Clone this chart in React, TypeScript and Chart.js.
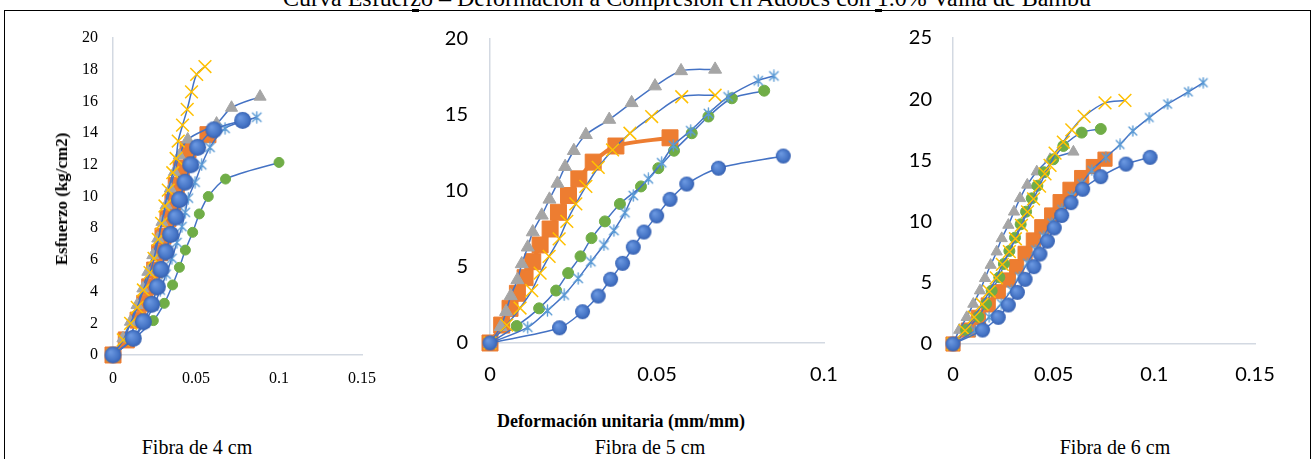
import React, { useEffect, useRef } from "react";
import { Chart, registerables } from "chart.js";

Chart.register(...registerables);

type Pt = [number, number];

// ---- Fibra de 4 cm: [deformación unitaria (mm/mm), esfuerzo (kg/cm2)] ----
const f4Probeta1: Pt[] = [[0, 0], [0.0122, 1.05], [0.0183, 2.1], [0.0233, 3.2], [0.0267, 4.3], [0.0289, 5.4], [0.0319, 6.5], [0.0347, 7.6], [0.0379, 8.7], [0.04, 9.8], [0.0434, 10.9], [0.0468, 12.0], [0.051, 13.1], [0.0608, 14.2], [0.0781, 14.8]];
const f4Probeta2: Pt[] = [[0, 0], [0.008, 0.95], [0.0151, 2.2], [0.0191, 3.26], [0.0221, 4.3], [0.0251, 5.36], [0.0281, 6.45], [0.0301, 7.5], [0.0331, 8.6], [0.0361, 9.65], [0.0381, 10.7], [0.0411, 11.8], [0.0452, 12.95], [0.0572, 13.9]];
const f4Probeta3: Pt[] = [[0, 0], [0.006, 1.05], [0.0105, 2.1], [0.0145, 3.15], [0.018, 4.2], [0.021, 5.25], [0.024, 6.3], [0.027, 7.35], [0.0295, 8.4], [0.032, 9.45], [0.0345, 10.5], [0.037, 11.55], [0.04, 12.6], [0.045, 13.6], [0.0624, 14.6], [0.0714, 15.6], [0.0886, 16.3]];
const f4Probeta4: Pt[] = [[0, 0], [0.0062, 0.95], [0.0106, 2.0], [0.0146, 3.0], [0.0183, 4.1], [0.0223, 5.2], [0.0247, 6.1], [0.0273, 7.3], [0.0293, 8.3], [0.0313, 9.4], [0.0333, 10.4], [0.036, 11.5], [0.038, 12.4], [0.0393, 13.5], [0.0419, 14.5], [0.0447, 15.5], [0.0473, 16.6], [0.0504, 17.7], [0.0554, 18.2]];
const f4Probeta5: Pt[] = [[0, 0], [0.012, 1.0], [0.019, 2.05], [0.0245, 3.1], [0.0285, 4.1], [0.032, 5.1], [0.0355, 6.1], [0.0385, 7.1], [0.0415, 8.1], [0.0435, 9.0], [0.0454, 9.9], [0.0494, 10.9], [0.0534, 12.0], [0.0584, 13.1], [0.0675, 14.3], [0.0866, 15.0]];
const f4Probeta6: Pt[] = [[0, 0], [0.0135, 1.1], [0.0243, 2.17], [0.0309, 3.26], [0.0359, 4.42], [0.04, 5.53], [0.0436, 6.62], [0.048, 7.74], [0.052, 8.9], [0.0574, 10.0], [0.0678, 11.1], [0.1, 12.15]];

// ---- Fibra de 5 cm ----
const f5Probeta1: Pt[] = [[0, 0], [0.0208, 1.0], [0.0277, 2.06], [0.0324, 3.09], [0.0361, 4.19], [0.0397, 5.24], [0.0429, 6.3], [0.0461, 7.3], [0.0499, 8.36], [0.0539, 9.45], [0.0589, 10.46], [0.0684, 11.5], [0.0878, 12.3]];
const f5Probeta2: Pt[] = [[0, 0], [0.0035, 1.18], [0.006, 2.28], [0.0082, 3.27], [0.0105, 4.3], [0.0128, 5.35], [0.015, 6.45], [0.018, 7.5], [0.0205, 8.6], [0.0235, 9.7], [0.0266, 10.8], [0.0309, 11.9], [0.0377, 12.96], [0.0539, 13.5]];
const f5Probeta3: Pt[] = [[0, 0], [0.0032, 1.07], [0.0048, 2.06], [0.0062, 3.1], [0.0082, 4.15], [0.0095, 5.2], [0.0113, 6.3], [0.0128, 7.3], [0.0155, 8.4], [0.0178, 9.45], [0.0202, 10.5], [0.0225, 11.6], [0.0251, 12.65], [0.0287, 13.7], [0.0357, 14.7], [0.0424, 15.8], [0.0494, 16.9], [0.0572, 17.9], [0.0674, 18.0]];
const f5Probeta4: Pt[] = [[0, 0], [0.005, 1.18], [0.009, 2.3], [0.0125, 3.45], [0.015, 4.6], [0.0177, 5.7], [0.0207, 6.85], [0.023, 8.0], [0.0257, 9.15], [0.0287, 10.3], [0.0324, 11.55], [0.0367, 12.7], [0.0419, 13.8], [0.0484, 14.9], [0.0574, 16.2], [0.0674, 16.3]];
const f5Probeta5: Pt[] = [[0, 0], [0.0113, 1.03], [0.0172, 2.13], [0.0222, 3.16], [0.0264, 4.25], [0.0302, 5.35], [0.0341, 6.45], [0.0371, 7.4], [0.0404, 8.57], [0.0429, 9.7], [0.0474, 10.8], [0.0514, 11.86], [0.0549, 13.0], [0.0601, 13.97], [0.0654, 15.1], [0.0713, 16.2], [0.0803, 17.26], [0.085, 17.57]];
const f5Probeta6: Pt[] = [[0, 0], [0.008, 1.12], [0.0147, 2.28], [0.0198, 3.45], [0.0234, 4.6], [0.0271, 5.7], [0.0304, 6.9], [0.0344, 8.0], [0.0389, 9.15], [0.0452, 10.3], [0.0504, 11.5], [0.0551, 12.65], [0.0604, 13.8], [0.0654, 14.9], [0.0724, 16.1], [0.0821, 16.6]];

// ---- Fibra de 6 cm ----
const f6Probeta1: Pt[] = [[0, 0], [0.0147, 1.14], [0.0225, 2.18], [0.0275, 3.19], [0.032, 4.22], [0.0358, 5.28], [0.0402, 6.32], [0.0432, 7.35], [0.0469, 8.4], [0.0503, 9.48], [0.054, 10.5], [0.0586, 11.55], [0.0644, 12.64], [0.0734, 13.67], [0.0859, 14.7], [0.0979, 15.25]];
const f6Probeta2: Pt[] = [[0, 0], [0.0076, 1.14], [0.0126, 2.18], [0.0175, 3.19], [0.0225, 4.27], [0.0275, 5.23], [0.0316, 6.32], [0.0358, 7.41], [0.0399, 8.5], [0.0441, 9.58], [0.049, 10.54], [0.0532, 11.63], [0.0581, 12.64], [0.0639, 13.6], [0.0697, 14.5], [0.0755, 15.1]];
const f6Probeta3: Pt[] = [[0, 0], [0.0031, 1.14], [0.0068, 2.18], [0.0101, 3.27], [0.0134, 4.36], [0.0159, 5.37], [0.0187, 6.45], [0.0217, 7.54], [0.0242, 8.63], [0.0275, 9.72], [0.0303, 10.8], [0.0333, 11.9], [0.0369, 13.0], [0.0416, 14.08], [0.0482, 15.09], [0.0598, 15.7]];
const f6Probeta4: Pt[] = [[0, 0], [0.006, 1.1], [0.0105, 2.2], [0.0145, 3.25], [0.018, 4.3], [0.0215, 5.4], [0.0245, 6.5], [0.028, 7.55], [0.031, 8.6], [0.034, 9.7], [0.037, 10.8], [0.04, 11.85], [0.043, 12.9], [0.0457, 13.9], [0.0482, 14.6], [0.0507, 15.6], [0.0548, 16.5], [0.059, 17.5], [0.0651, 18.6], [0.0755, 19.7], [0.0854, 19.9]];
const f6Probeta5: Pt[] = [[0, 0], [0.011, 1.1], [0.018, 2.2], [0.024, 3.3], [0.029, 4.4], [0.033, 5.5], [0.037, 6.6], [0.041, 7.7], [0.045, 8.8], [0.049, 9.9], [0.054, 11.0], [0.059, 12.1], [0.0639, 13.1], [0.0689, 14.2], [0.0759, 15.25], [0.083, 16.3], [0.0893, 17.4], [0.0975, 18.5], [0.1066, 19.6], [0.1169, 20.6], [0.1243, 21.35]];
const f6Probeta6: Pt[] = [[0, 0], [0.0065, 1.14], [0.0126, 2.23], [0.0164, 3.27], [0.0192, 4.36], [0.023, 5.45], [0.0253, 6.54], [0.028, 7.6], [0.0308, 8.69], [0.0336, 9.78], [0.0363, 10.81], [0.0391, 11.9], [0.0419, 12.93], [0.0452, 14.03], [0.0498, 15.09], [0.0548, 16.18], [0.0639, 17.27], [0.0734, 17.57]];

// Axis ranges and tick labels
const xTicks4 = [0, 0.05, 0.1, 0.15];
const xTicks5 = [0, 0.05, 0.1];
const xTicks6 = [0, 0.05, 0.1, 0.15];
const yTicks4 = [0, 2, 4, 6, 8, 10, 12, 14, 16, 18, 20];
const yTicks5 = [0, 5, 10, 15, 20];
const yTicks6 = [0, 5, 10, 15, 20, 25];

const TITLE = "Curva Esfuerzo – Deformación a Compresión en Adobes con 1.0% Vaina de Bambú";
const Y_TITLE = "Esfuerzo (kg/cm2)";
const X_TITLE = "Deformación unitaria (mm/mm)";
const CAPTIONS = ["Fibra de 4 cm", "Fibra de 5 cm", "Fibra de 6 cm"];

const BLUE = "#4472C4";
const ORANGE = "#ED7D31";
const GRAY = "#A5A5A5";
const GOLD = "#FFC000";
const SKY = "#5B9BD5";
const GREEN = "#70AD47";
const AXIS = "#D3D9E2";

interface Marks { circle: number; square: number; tri: number; cross: number; star: number; dot: number; }
interface Panel {
  series: Pt[][];
  xTicks: number[];
  yTicks: number[];
  font: { family: string; size: number };
  box: { left: number; top: number; width: number; height: number };
  padTop: number; padRight: number;
  yAxisW: number; xAxisH: number; yTickPad: number; xTickPad: number;
  marks: Marks;
  orangeLine: boolean;
}

const SERIF = "'Liberation Serif', 'Times New Roman', serif";
const SANS = "Lato, 'Open Sans', sans-serif";

const panels: Panel[] = [
  {
    series: [f4Probeta1, f4Probeta2, f4Probeta3, f4Probeta4, f4Probeta5, f4Probeta6],
    xTicks: xTicks4, yTicks: yTicks4,
    font: { family: SERIF, size: 16 },
    box: { left: 60, top: 20, width: 320, height: 380 },
    padTop: 18, padRight: 18, yAxisW: 53, xAxisH: 45, yTickPad: 15, xTickPad: 14,
    marks: { circle: 8.5, square: 11.3, tri: 7, cross: 9, star: 13, dot: 5 },
    orangeLine: false,
  },
  {
    series: [f5Probeta1, f5Probeta2, f5Probeta3, f5Probeta4, f5Probeta5, f5Probeta6],
    xTicks: xTicks5, yTicks: yTicks5,
    font: { family: SANS, size: 20 },
    box: { left: 420, top: 20, width: 430, height: 380 },
    padTop: 19, padRight: 26, yAxisW: 70, xAxisH: 57, yTickPad: 22, xTickPad: 20,
    marks: { circle: 7.5, square: 11.3, tri: 7.5, cross: 9, star: 13, dot: 5.5 },
    orangeLine: true,
  },
  {
    series: [f6Probeta1, f6Probeta2, f6Probeta3, f6Probeta4, f6Probeta5, f6Probeta6],
    xTicks: xTicks6, yTicks: yTicks6,
    font: { family: SANS, size: 20 },
    box: { left: 880, top: 20, width: 420, height: 380 },
    padTop: 18, padRight: 45, yAxisW: 73, xAxisH: 56, yTickPad: 21, xTickPad: 19,
    marks: { circle: 7.5, square: 10, tri: 6.5, cross: 9, star: 12, dot: 5.5 },
    orangeLine: false,
  },
];

// Shaded round marker, drawn once into a small canvas
function shadedCircle(r: number): HTMLCanvasElement {
  const c = document.createElement("canvas");
  const s = Math.ceil(2 * r + 2);
  c.width = s; c.height = s;
  const g = c.getContext("2d")!;
  const m = s / 2;
  const grad = g.createRadialGradient(m - r * 0.3, m - r * 0.35, r * 0.1, m, m, r);
  grad.addColorStop(0, "#6A97E0");
  grad.addColorStop(0.7, "#4675C6");
  grad.addColorStop(1, "#3660B0");
  g.beginPath();
  g.arc(m, m, r, 0, Math.PI * 2);
  g.fillStyle = grad;
  g.fill();
  return c;
}

// Asterisk marker: a diagonal cross plus a vertical stroke
function asterisk(size: number): HTMLCanvasElement {
  const c = document.createElement("canvas");
  c.width = size; c.height = size;
  const g = c.getContext("2d")!;
  const m = size / 2;
  const h = m - 1;
  const d = h * 0.78;
  g.strokeStyle = SKY;
  g.lineWidth = 1.4;
  g.lineCap = "round";
  g.beginPath();
  g.moveTo(m, m - h); g.lineTo(m, m + h);
  g.moveTo(m - d, m - d); g.lineTo(m + d, m + d);
  g.moveTo(m + d, m - d); g.lineTo(m - d, m + d);
  g.stroke();
  return c;
}

const fmt = (v: number) => String(Math.round(v * 1000) / 1000);

// Keep the plot area exactly where the layout padding puts it
const noScalePadding = (s: any) => {
  s.paddingTop = 0; s.paddingBottom = 0; s.paddingLeft = 0; s.paddingRight = 0;
};

function buildChart(canvas: HTMLCanvasElement, p: Panel): Chart {
  const toXY = (pts: Pt[]) => pts.map(([x, y]) => ({ x, y }));
  const mk = p.marks;
  const common = { showLine: true, tension: 0.3, clip: false as const, borderColor: BLUE, borderWidth: 1.5 };
  const [s1, s2, s3, s4, s5, s6] = p.series;
  const datasets: any[] = [
    { ...common, label: "1", data: toXY(s1), pointStyle: shadedCircle(mk.circle), pointRadius: mk.circle },
    { ...common, label: "5", data: toXY(s5), pointStyle: asterisk(mk.star), pointRadius: mk.star / 2 },
    { ...common, label: "4", data: toXY(s4), pointStyle: "crossRot", pointRadius: mk.cross, pointBorderColor: GOLD, pointBorderWidth: 1.5 },
    { ...common, label: "6", data: toXY(s6), pointStyle: "circle", pointRadius: mk.dot, pointBackgroundColor: GREEN, pointBorderColor: GREEN, pointBorderWidth: 1 },
    { ...common, label: "3", data: toXY(s3), pointStyle: "triangle", pointRadius: mk.tri, pointBackgroundColor: GRAY, pointBorderColor: GRAY, pointBorderWidth: 1 },
    {
      ...common, label: "2", data: toXY(s2), pointStyle: "rect", pointRadius: mk.square,
      pointBackgroundColor: ORANGE, pointBorderColor: ORANGE, pointBorderWidth: 1,
      borderColor: p.orangeLine ? ORANGE : BLUE, borderWidth: p.orangeLine ? 4 : 1.5,
    },
  ];
  const xs = p.xTicks, ys = p.yTicks;
  const tickFont = { family: p.font.family, size: p.font.size };
  return new Chart(canvas, {
    type: "scatter",
    data: { datasets },
    options: {
      animation: false,
      responsive: false,
      maintainAspectRatio: false,
      events: [],
      layout: { padding: { top: p.padTop, right: p.padRight, left: 0, bottom: 0 } },
      plugins: { legend: { display: false }, tooltip: { enabled: false }, title: { display: false } },
      scales: {
        x: {
          type: "linear",
          min: xs[0], max: xs[xs.length - 1],
          afterBuildTicks: (s: any) => { s.ticks = xs.map((v) => ({ value: v })); },
          afterFit: (s: any) => { s.height = p.xAxisH; noScalePadding(s); },
          ticks: { font: tickFont, color: "#000", padding: p.xTickPad, maxRotation: 0, autoSkip: false, callback: (v: any) => fmt(Number(v)) },
          grid: { display: false, drawTicks: false },
          border: { display: true, color: AXIS, width: 1.5 },
        },
        y: {
          type: "linear",
          min: ys[0], max: ys[ys.length - 1],
          afterBuildTicks: (s: any) => { s.ticks = ys.map((v) => ({ value: v })); },
          afterFit: (s: any) => { s.width = p.yAxisW; noScalePadding(s); },
          ticks: { font: tickFont, color: "#000", padding: p.yTickPad, autoSkip: false, callback: (v: any) => fmt(Number(v)) },
          grid: { display: false, drawTicks: false },
          border: { display: true, color: AXIS, width: 1.5 },
        },
      },
    },
  });
}

function PanelChart({ panel }: { panel: Panel }) {
  const ref = useRef<HTMLCanvasElement | null>(null);
  useEffect(() => {
    if (!ref.current) return;
    const chart = buildChart(ref.current, panel);
    return () => chart.destroy();
  }, [panel]);
  const b = panel.box;
  return (
    <canvas
      ref={ref}
      width={b.width}
      height={b.height}
      style={{ position: "absolute", left: b.left, top: b.top, width: b.width, height: b.height }}
    />
  );
}

const captionX = [197, 650, 1115];

export default function App() {
  return (
    <div style={{ position: "absolute", left: 0, top: 0, width: 1314, height: 459, overflow: "hidden", background: "#fff", fontFamily: SERIF }}>
      <div style={{ position: "absolute", left: 0, width: 1314, top: -15, textAlign: "center", fontSize: 24, whiteSpace: "nowrap", color: "#000", paddingLeft: 60, boxSizing: "border-box" }}>
        {TITLE}
      </div>
      <div style={{ position: "absolute", left: 4, top: 10, width: 1307, height: 470, border: "1px solid #000", boxSizing: "border-box" }} />
      <div style={{ position: "absolute", left: 412, top: 9, width: 7, height: 3, background: "#000" }} />
      <div style={{ position: "absolute", left: 875, top: 9, width: 7, height: 3, background: "#000" }} />
      {panels.map((p, i) => (
        <PanelChart key={i} panel={p} />
      ))}
      <div style={{ position: "absolute", left: 62, top: 199, transform: "translate(-50%, -50%) rotate(-90deg)", fontWeight: "bold", fontSize: 17, whiteSpace: "nowrap", color: "#000" }}>
        {Y_TITLE}
      </div>
      <div style={{ position: "absolute", left: 497, top: 411, fontWeight: "bold", fontSize: 18, whiteSpace: "nowrap", color: "#000" }}>
        {X_TITLE}
      </div>
      {CAPTIONS.map((t, i) => (
        <div key={t} style={{ position: "absolute", left: captionX[i], top: 436, transform: "translateX(-50%)", fontSize: 20, whiteSpace: "nowrap", color: "#000" }}>
          {t}
        </div>
      ))}
    </div>
  );
}
